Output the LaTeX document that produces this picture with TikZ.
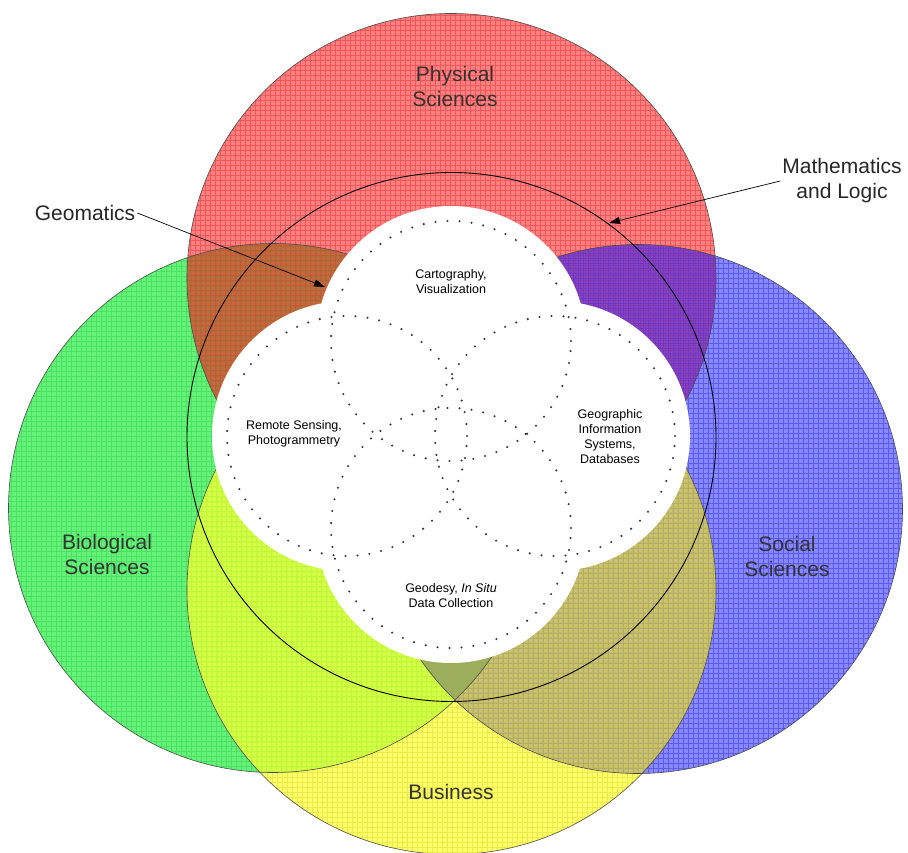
\documentclass[tikz,border=0pt]{standalone}
\usepackage{fontspec}
\setmainfont{Liberation Sans}
\usepackage{tikz}
\usetikzlibrary{arrows,arrows.meta,shapes}
\usetikzlibrary{positioning}

\definecolor{redbase}{HTML}{FF8080}
\definecolor{redgrid}{HTML}{E41C1C}
\definecolor{greenbase}{HTML}{66F27A}
\definecolor{greengrid}{HTML}{22CC3C}
\definecolor{bluebase}{HTML}{8888FF}
\definecolor{bluegrid}{HTML}{1E1EDC}
\definecolor{yellowbase}{HTML}{FFFF6A}
\definecolor{yellowgrid}{HTML}{CFCF1E}
\definecolor{rgbase}{HTML}{B05E2A}
\definecolor{rbbase}{HTML}{5A2ED8}
\definecolor{rybase}{HTML}{FFA050}
\definecolor{gybase}{HTML}{C8FF38}
\definecolor{bybase}{HTML}{B8AE68}
\definecolor{gbybase}{HTML}{90A85A}

\tikzstyle{biglabel} = [align=center, text=black!80,
    font=\fontsize{21}{25}\selectfont, inner sep=2pt]
\tikzstyle{smalllabel} = [align=center,
    font=\fontsize{12.5}{15}\selectfont, inner sep=1pt]
\tikzstyle{ring} = [draw=black!70, line width=0.6pt]
\tikzstyle{dotring} = [line width=2.3pt, line cap=round, black!80,
    dash pattern=on 0pt off 12pt]
\tikzstyle{pointer} = [-{Triangle[length=11pt,width=7pt]}, line width=0.7pt]
\tikzstyle{hatch} = [line width=0.55pt, opacity=0.42, step=5pt]
\tikzstyle{blend} = [fill opacity=0.72]

\def\R{264.5pt}
\def\r{135pt}
\def\rd{120pt}

\begin{document}
\begin{tikzpicture}[x=1pt, y=1pt]
  \useasboundingbox (0,0) rectangle (908,-853);
  % Centres of the disciplines
  \coordinate (cred) at (451.5,-278);
  \coordinate (cgreen) at (273,-508);
  \coordinate (cblue) at (638,-509);
  \coordinate (cyellow) at (451.5,-590);
  \coordinate (cmath) at (451.5,-437);
  % Centres of the geomatics lobes
  \coordinate (ltop) at (451,-341);
  \coordinate (lleft) at (347,-436);
  \coordinate (lright) at (555,-436);
  \coordinate (lbottom) at (451,-528);

  % Base fills
  \fill[greenbase] (cgreen) circle[radius=\R];
  \fill[bluebase] (cblue) circle[radius=\R];
  \fill[redbase] (cred) circle[radius=\R];
  \fill[yellowbase] (cyellow) circle[radius=\R];

  % Grid hatching
  \foreach \c/\g/\s in {cgreen/greengrid/1, cblue/bluegrid/3,
                        cred/redgrid/0, cyellow/yellowgrid/2} {
    \begin{scope}
      \clip (\c) circle[radius=\R];
      \draw[hatch, \g, shift={(\s,-\s)}] (-5,5) grid (910,-855);
    \end{scope}
  }

  % Overlaps
  \begin{scope}
    \clip (cred) circle[radius=\R];
    \fill[rgbase, blend] (cgreen) circle[radius=\R];
    \fill[rbbase, blend] (cblue) circle[radius=\R];
    \fill[rybase, blend] (cyellow) circle[radius=\R];
  \end{scope}
  \begin{scope}
    \clip (cgreen) circle[radius=\R];
    \fill[gybase, blend] (cyellow) circle[radius=\R];
  \end{scope}
  \begin{scope}
    \clip (cblue) circle[radius=\R];
    \fill[bybase, blend] (cyellow) circle[radius=\R];
  \end{scope}
  \begin{scope}
    \clip (cgreen) circle[radius=\R];
    \clip (cblue) circle[radius=\R];
    \fill[gbybase, blend] (cyellow) circle[radius=\R];
  \end{scope}

  % Outlines
  \foreach \c in {cgreen, cblue, cred, cyellow}
    \draw[ring] (\c) circle[radius=\R];
  \draw[line width=0.9pt] (cmath) circle[radius=\R];

  % Geomatics flower
  \foreach \c in {ltop, lleft, lright, lbottom}
    \fill[white] (\c) circle[radius=\r];
  \foreach \c in {ltop, lleft, lright, lbottom}
    \draw[dotring] (\c) circle[radius=\rd];

  % Place nodes
  \node[biglabel] (phys) at (455,-86) {Physical\\Sciences};
  \node[biglabel] (bio) at (107,-554) {Biological\\Sciences};
  \node[biglabel] (soc) at (787,-556) {Social\\Sciences};
  \node[biglabel] (bus) at (451,-792) {Business};
  \node[biglabel, text=black!85] (geo) at (85,-213) {Geomatics};
  \node[biglabel, text=black!85] (math) at (842,-181) {Mathematics\\and Logic};

  \node[smalllabel] (carto) at (451,-282) {Cartography,\\Visualization};
  \node[smalllabel] (remote) at (294,-434) {Remote Sensing,\\Photogrammetry};
  \node[smalllabel] (gis) at (610,-437)
    {Geographic\\Information\\Systems,\\Databases};
  \node[smalllabel] (geod) at (451,-596)
    {Geodesy, \textit{In Situ}\\Data Collection};

  % Pointers
  \coordinate (geotip) at (325,-287);
  \coordinate (mathtip) at (609,-223);
  \draw[pointer] (geo.east) -- (geotip);
  \draw[pointer] (math.west) -- (mathtip);
\end{tikzpicture}
\end{document}
